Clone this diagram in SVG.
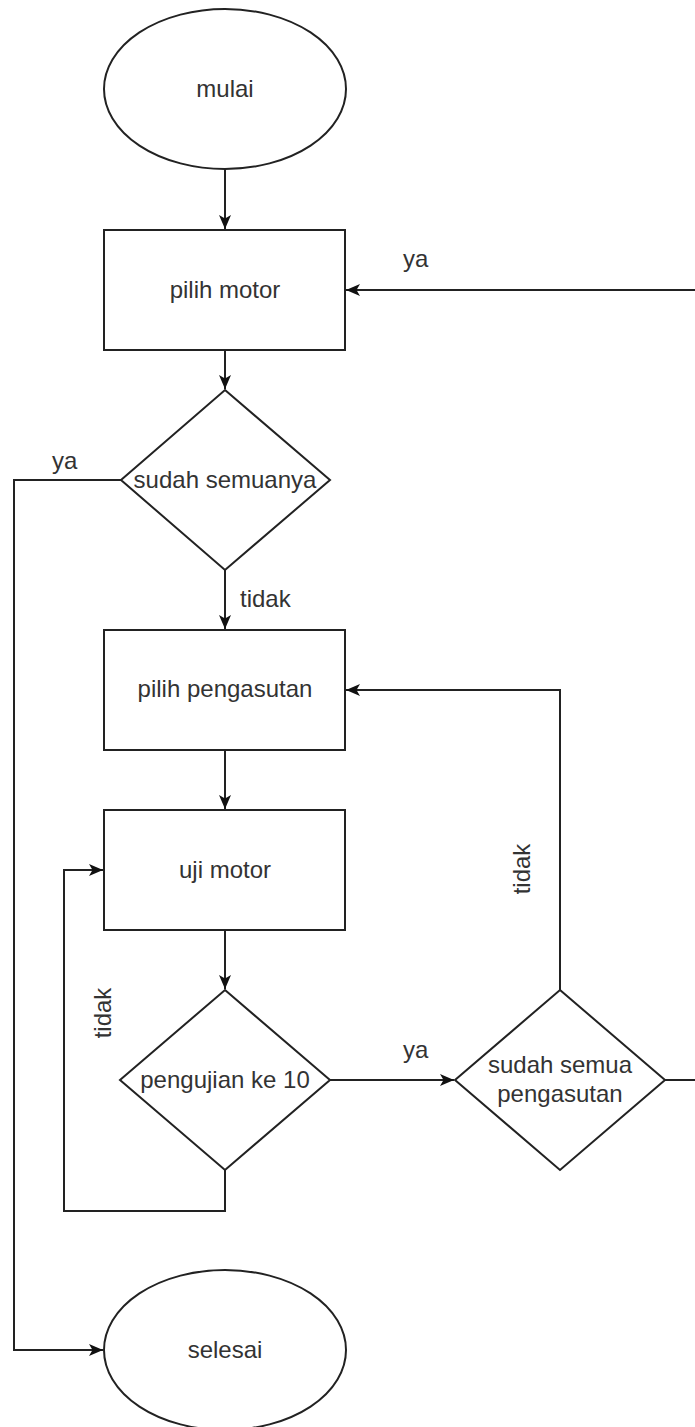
<svg xmlns="http://www.w3.org/2000/svg" width="695" height="1427" viewBox="0 0 695 1427">
<style>
.shape{fill:#fff;stroke:#222;stroke-width:2}
.edge{fill:none;stroke:#222;stroke-width:2}
.t{font-family:"Liberation Sans",Arial,sans-serif;font-size:24px;fill:#333;text-anchor:middle}
.lbl{font-family:"Liberation Sans",Arial,sans-serif;font-size:24px;fill:#333}
</style>
<defs>
<marker id="arr" markerUnits="userSpaceOnUse" markerWidth="16" markerHeight="14" refX="15" refY="7" orient="auto">
<path d="M1,1 L15,7 L1,13 L4.5,7 z" fill="#111"/>
</marker>
</defs>
<rect width="695" height="1427" fill="#fff"/>
<g id="connectors">
<path class="edge" d="M225,169 V229" marker-end="url(#arr)"/>
<path class="edge" d="M225,350 V389" marker-end="url(#arr)"/>
<path class="edge" d="M121,480 H14 V1350 H103" marker-end="url(#arr)"/>
<path class="edge" d="M225,570 V629" marker-end="url(#arr)"/>
<path class="edge" d="M225,750 V809" marker-end="url(#arr)"/>
<path class="edge" d="M225,930 V989" marker-end="url(#arr)"/>
<path class="edge" d="M225,1170 V1211 H64 V870 H103" marker-end="url(#arr)"/>
<path class="edge" d="M330,1080 H454" marker-end="url(#arr)"/>
<path class="edge" d="M560,990 V690 H346" marker-end="url(#arr)"/>
<path class="edge" d="M665,1080 H700 V290 H346" marker-end="url(#arr)"/>
<text class="lbl" x="403" y="267">ya</text>
<text class="lbl" x="52" y="469">ya</text>
<text class="lbl" x="240" y="607">tidak</text>
<text class="lbl" x="403" y="1058">ya</text>
<text class="t" transform="translate(111,1013) rotate(-90)">tidak</text>
<text class="t" transform="translate(530,869) rotate(-90)">tidak</text>
</g>
<g id="mulai">
<ellipse class="shape" cx="225" cy="89" rx="121" ry="80"/>
<text class="t" x="225" y="97">mulai</text>
</g>
<g id="pilih-motor">
<rect class="shape" x="104" y="230" width="241" height="120"/>
<text class="t" x="225" y="298">pilih motor</text>
</g>
<g id="sudah-semuanya">
<polygon class="shape" points="225,390 330,480 225,570 121,480"/>
<text class="t" x="225" y="488">sudah semuanya</text>
</g>
<g id="pilih-pengasutan">
<rect class="shape" x="104" y="630" width="241" height="120"/>
<text class="t" x="225" y="697">pilih pengasutan</text>
</g>
<g id="uji-motor">
<rect class="shape" x="104" y="810" width="241" height="120"/>
<text class="t" x="225" y="878">uji motor</text>
</g>
<g id="pengujian">
<polygon class="shape" points="225,990 330,1080 225,1170 120,1080"/>
<text class="t" x="225" y="1088">pengujian ke 10</text>
</g>
<g id="sudah-semua-pengasutan">
<polygon class="shape" points="560,990 665,1080 560,1170 455,1080"/>
<text class="t" x="560" y="1073">sudah semua</text>
<text class="t" x="560" y="1102">pengasutan</text>
</g>
<g id="selesai">
<ellipse class="shape" cx="225" cy="1350" rx="121" ry="80"/>
<text class="t" x="225" y="1358">selesai</text>
</g>
</svg>
